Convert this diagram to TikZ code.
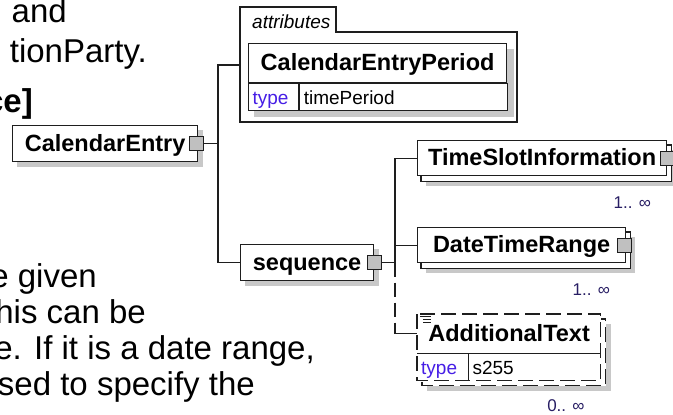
\documentclass[tikz,border=0pt]{standalone}
\usepackage{fontspec}
\setmainfont{Liberation Sans}
\usetikzlibrary{calc}
\pgfdeclarelayer{bglayer}
\pgfdeclarelayer{shadowlayer}
\pgfdeclarelayer{backlayer}
\pgfsetlayers{bglayer,shadowlayer,backlayer,main}
\definecolor{shadowc}{RGB}{200,200,200}
\definecolor{linec}{RGB}{30,30,30}
\definecolor{typec}{RGB}{70,30,230}
\definecolor{multc}{RGB}{40,30,100}
\definecolor{sqc}{RGB}{192,192,192}
\tikzset{
  boxline/.style={draw=linec, line width=1.2pt},
  elembox/.style={boxline, fill=white, anchor=north west, minimum height=35pt, inner sep=0pt,
    text height=17pt, text depth=2pt, font=\fontsize{23.5}{26}\selectfont\bfseries},
  sqbtn/.style={draw=linec, line width=1pt, fill=sqc, minimum width=14pt, minimum height=14pt, inner sep=0pt},
  conn/.style={draw=linec, line width=1.2pt},
  optconn/.style={conn, dash pattern=on 14pt off 6pt},
  dashbox/.style={boxline, dash pattern=on 15pt off 6pt},
  cell/.style={fill=white, anchor=north west, inner ysep=0pt, minimum height=27pt,
    text height=17pt, text depth=2pt, font=\fontsize{19}{22}\selectfont, align=left},
  typelbl/.style={cell, text=typec},
  mult/.style={anchor=base east, inner sep=0pt, text=multc, font=\fontsize{17}{20}\selectfont},
  doctext/.style={anchor=base east, inner sep=0pt, font=\fontsize{33}{38}\selectfont},
  shadowfill/.style={fill=shadowc},
}
\begin{document}
\begin{tikzpicture}[x=1pt,y=-1pt]
\useasboundingbox (0,0) rectangle (673,415);
\begin{pgfonlayer}{bglayer}
\fill[white] (0,0) rectangle (673,415);
\end{pgfonlayer}
\clip (0,0) rectangle (673,415);

% background document text
\node[doctext] (t1) at (67,22) {and};
\node[doctext] (t2) at (147,62) {tionParty.};
\node[doctext, font=\fontsize{33}{38}\selectfont\bfseries] (t3) at (33,112) {ce]};
\node[doctext] (t4) at (97,287) {e given};
\node[doctext] (t5) at (146,323) {his can be};
\node[doctext] (t6) at (315,359) {e. If it is a date range,};
\node[doctext] (t7) at (255,395) {sed to specify the};

% root element
\node[elembox, minimum width=185pt, minimum height=36pt] (ce) at (12,125) {CalendarEntry};
\node[sqbtn] (ces) at ([xshift=-2pt]ce.east) {};
\begin{pgfonlayer}{shadowlayer}
\fill[shadowfill] ([shift={(5,5)}]ce.north west) rectangle ([shift={(5,5)}]ce.south east);
\end{pgfonlayer}

% attributes frame
\draw[boxline] (240,122) -- (240,7) -- (336,7) -- (336,32) -- (517,32) -- (517,122) -- cycle;
\node[anchor=base west, inner sep=0pt, font=\fontsize{19}{22}\selectfont\itshape] (attrlbl) at (252,28) {attributes};
\coordinate (attrin) at (240,65);
\node[elembox, minimum width=258pt, minimum height=39pt] (cep) at (248,43) {CalendarEntryPeriod};
\node[typelbl, boxline, text width=42pt, inner xsep=4pt] (ceptl) at (cep.south west) {type};
\node[cell, boxline, text width=200pt, inner xsep=4pt] (ceptv) at (ceptl.north east) {timePeriod};
\begin{pgfonlayer}{shadowlayer}
\fill[shadowfill] ([shift={(6,6)}]cep.north west) rectangle ([shift={(6,6)}]ceptv.south east);
\end{pgfonlayer}

% sequence
\node[elembox, minimum width=133pt, minimum height=36pt] (seq) at (240,244) {sequence};
\node[sqbtn] (seqs) at (seq.east) {};
\begin{pgfonlayer}{shadowlayer}
\fill[shadowfill] ([shift={(5,5)}]seq.north west) rectangle ([shift={(5,5)}]seq.south east);
\end{pgfonlayer}

% TimeSlotInformation
\node[elembox, minimum width=249pt] (tsi) at (417,140) {TimeSlotInformation};
\node[sqbtn] (tsis) at (tsi.east) {};
\begin{pgfonlayer}{backlayer}
\draw[boxline, fill=white] ([shift={(4,5)}]tsi.north west) rectangle ([shift={(4,5)}]tsi.south east);
\end{pgfonlayer}
\begin{pgfonlayer}{shadowlayer}
\fill[shadowfill] ([shift={(9,10)}]tsi.north west) rectangle ([shift={(9,10)}]tsi.south east);
\end{pgfonlayer}
\node[mult] (tsim) at ([shift={(-16,32)}]tsi.south east) {1.. ∞};

% DateTimeRange
\node[elembox, minimum width=208pt] (dtr) at (417,227) {DateTimeRange};
\node[sqbtn] (dtrs) at ([xshift=-2pt]dtr.east) {};
\begin{pgfonlayer}{backlayer}
\draw[boxline, fill=white] ([shift={(4,5)}]dtr.north west) rectangle ([shift={(4,5)}]dtr.south east);
\end{pgfonlayer}
\begin{pgfonlayer}{shadowlayer}
\fill[shadowfill] ([shift={(9,10)}]dtr.north west) rectangle ([shift={(9,10)}]dtr.south east);
\end{pgfonlayer}
\node[mult] (dtrm) at ([shift={(-16,32)}]dtr.south east) {1.. ∞};

% AdditionalText
\node[elembox, draw=none, minimum width=183pt, minimum height=38pt] (addn) at (417,314) {AdditionalText};
\node[typelbl, text width=43pt, inner xsep=4pt] (addtl) at (addn.south west) {type};
\node[cell, text width=124pt, inner xsep=4pt] (addtv) at (addtl.north east) {s255};
\draw[dashbox] (addn.north west) rectangle (addtv.south east);
\draw[boxline] (addn.south west) -- (addn.south east);
\draw[boxline] (addtl.north east) -- (addtl.south east);
\draw[linec, line width=0.9pt] ([shift={(3,2)}]addn.north west) -- ++(11,0)
  ([shift={(6,5)}]addn.north west) -- ++(8,0)
  ([shift={(6,8)}]addn.north west) -- ++(8,0);
\begin{pgfonlayer}{backlayer}
\draw[dashbox, fill=white] ([shift={(5,5)}]addn.north west) rectangle ([shift={(5,5)}]addtv.south east);
\end{pgfonlayer}
\begin{pgfonlayer}{shadowlayer}
\fill[shadowfill] ([shift={(10,10)}]addn.north west) rectangle ([shift={(10,10)}]addtv.south east);
\end{pgfonlayer}
\node[mult] (addm) at ([shift={(-16,31)}]addtv.south east) {0.. ∞};

% connectors
\coordinate (bus1) at (218,0);
\coordinate (bus2) at (395,0);
\draw[conn] (ces.east) -- (ces.east -| bus1);
\draw[conn] (attrin) -- (attrin -| bus1) -- (seq.west -| bus1) -- (seq.west);
\draw[conn] (seqs.east) -- (seqs.east -| bus2);
\draw[conn] (tsi.west) -- (tsi.west -| bus2) -- (seqs.east -| bus2);
\draw[conn] (dtr.west -| bus2) -- (dtr.west);
\draw[optconn] (seqs.east -| bus2) -- (addn.west -| bus2);
\draw[conn] (addn.west -| bus2) -- (addn.west);
\end{tikzpicture}
\end{document}
